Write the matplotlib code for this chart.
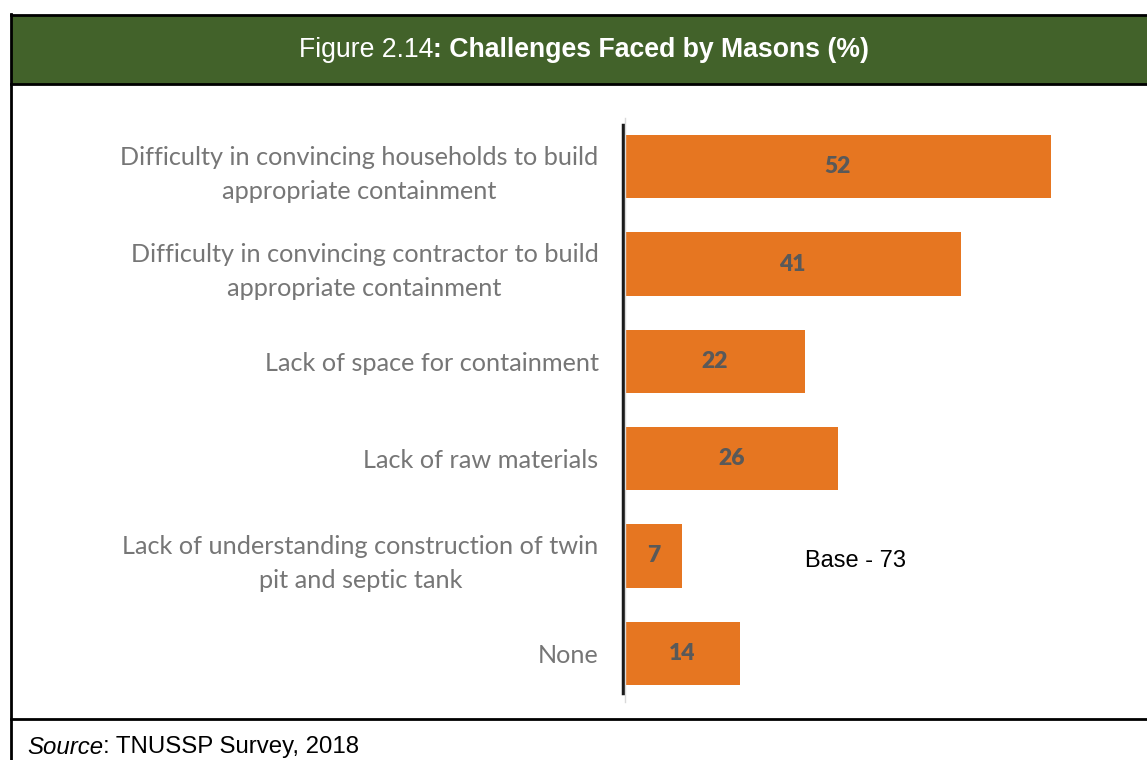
import matplotlib.pyplot as plt
from matplotlib.lines import Line2D
from matplotlib.patches import Rectangle

# data
categories = [
    "Difficulty in convincing households to build\nappropriate containment",
    "Difficulty in convincing contractor to build\nappropriate containment",
    "Lack of space for containment",
    "Lack of raw materials",
    "Lack of understanding construction of twin\npit and septic tank",
    "None",
]
values = [52, 41, 22, 26, 7, 14]

W, H = 1147, 760
fig = plt.figure(figsize=(W / 100, H / 100), dpi=100)

def fx(px):
    return px / W

def fy(py):
    return 1 - py / H

# header band
fig.add_artist(Rectangle((fx(11), fy(84)), 1 - fx(11), fy(15) - fy(84),
                         transform=fig.transFigure, facecolor="#42622A", edgecolor="none"))
# frame lines
lines = [
    ([fx(11), 1], [fy(15), fy(15)]),
    ([fx(11), 1], [fy(84), fy(84)]),
    ([fx(11), 1], [fy(719), fy(719)]),
    ([fx(11), fx(11)], [fy(14), 0]),
]
for xs, ys in lines:
    fig.add_artist(Line2D(xs, ys, transform=fig.transFigure, color="black", lw=2))


def two_part(x, y, parts, center=False, **kw):
    # parts: list of (text, extra kwargs); drawn side by side
    renderer = fig.canvas.get_renderer()
    arts = []
    for txt, extra in parts:
        t = fig.text(0, y, txt, va="center", **kw, **extra)
        arts.append(t)
    widths = [a.get_window_extent(renderer).width for a in arts]
    total = sum(widths)
    start = x - total / 2 if center else x
    for a, w in zip(arts, widths):
        a.set_x(start / W)
        start += w


two_part(584, fy(50), [("Figure 2.14", {}), (": Challenges Faced by Masons (%)", {"fontweight": "bold"})],
         center=True, color="white", fontsize=19.2, family="Liberation Sans")
two_part(27, fy(747), [("Source", {"style": "italic"}), (": TNUSSP Survey, 2018", {})],
         color="black", fontsize=17.3, family="Liberation Sans")

# axes
ax = fig.add_axes([fx(625), fy(702), fx(1116) - fx(625), fy(118) - fy(702)])
y = list(range(len(categories)))
bars = ax.barh(y, values, height=0.65, color="#E67621")
ax.set_xlim(0, 60)
ax.set_ylim(len(categories) - 0.5, -0.5)
ax.set_yticks(y)
ax.set_yticklabels(categories, fontsize=18.2, family="Lato", color="#767676")
for lab in ax.get_yticklabels():
    lab.set_multialignment("center")
    lab.set_linespacing(1.6)
ax.tick_params(axis="y", length=0, pad=19)
ax.set_xticks([])
for s in ["top", "right", "bottom"]:
    ax.spines[s].set_visible(False)
ax.spines["left"].set_color("#D9D9D9")
ax.spines["left"].set_linewidth(1)
ax.axvline(-0.3, ymin=0.015, ymax=0.988, color="#1A1A1A", lw=2.5, clip_on=False)

for b, v in zip(bars, values):
    ax.text(v / 2, b.get_y() + b.get_height() / 2, str(v), ha="center", va="center",
            fontsize=16.5, fontweight="heavy", family="Lato", color="#595959")

ax.text(28.2, 4.05, "Base - 73", fontsize=17, family="Liberation Sans", color="black",
        ha="center", va="center")

plt.savefig("out.png", dpi=100)
